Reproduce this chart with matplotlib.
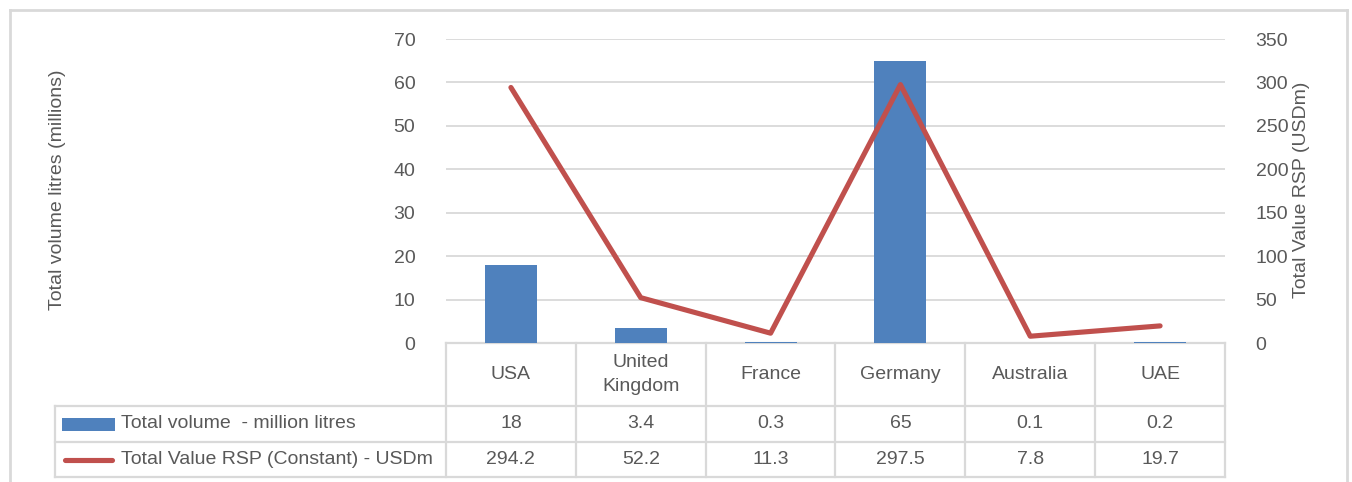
import matplotlib
matplotlib.use("Agg")
import matplotlib.pyplot as plt
from matplotlib.transforms import blended_transform_factory

plt.rcParams['font.family'] = ['Liberation Sans', 'DejaVu Sans']

# data
countries = ["USA", "United\nKingdom", "France", "Germany", "Australia", "UAE"]
volume = [18, 3.4, 0.3, 65, 0.1, 0.2]
value = [294.2, 52.2, 11.3, 297.5, 7.8, 19.7]
volume_labels = ["18", "3.4", "0.3", "65", "0.1", "0.2"]
value_labels = ["294.2", "52.2", "11.3", "297.5", "7.8", "19.7"]
series_names = ["Total volume  - million litres", "Total Value RSP (Constant) - USDm"]

BLUE = "#4F81BD"
RED = "#C0504D"
GREY = "#D9D9D9"
TXT = "#595959"
FS = 14

W, H = 1352, 482
fig = plt.figure(figsize=(W / 100, H / 100), dpi=100)

# plot area in pixels
left, right, top, bottom = 446, 1225, 39, 343
ax = fig.add_axes([left / W, 1 - bottom / H, (right - left) / W, (bottom - top) / H])
x = list(range(len(countries)))
ax.bar(x, volume, width=0.4, color=BLUE, zorder=3)
ax.set_xlim(-0.5, len(countries) - 0.5)
ax.set_ylim(0, 70)
ax.set_yticks(range(0, 71, 10))
ax.set_xticks([])
ax.grid(axis='y', color=GREY, linewidth=1.3, zorder=0)
ax.set_axisbelow(True)
ax.tick_params(axis='y', length=0, pad=22, labelsize=FS, labelcolor=TXT)
for s in ax.spines.values():
    s.set_visible(False)

ax2 = ax.twinx()
ax2.plot(x, value, color=RED, linewidth=3.7, solid_capstyle='round', zorder=4)
ax2.set_ylim(0, 350)
ax2.set_yticks(range(0, 351, 50))
ax2.tick_params(axis='y', length=0, pad=22, labelsize=FS, labelcolor=TXT)
for s in ax2.spines.values():
    s.set_visible(False)

fig.text(58 / W, 1 - 190 / H, "Total volume litres (millions)", rotation=90,
         ha='center', va='center', fontsize=FS, color=TXT)
fig.text(1302 / W, 1 - 190 / H, "Total Value RSP (USDm)", rotation=90,
         ha='center', va='center', fontsize=FS, color=TXT)

# data table under the axis
tr = blended_transform_factory(ax.transData, ax.transAxes)
ph = bottom - top
col_w = (right - left) / len(countries)
r1, r2, r3 = -63 / ph, -99 / ph, -134 / ph
xl = -0.5 + (55 - left) / col_w
lk = dict(color=GREY, linewidth=1.6, transform=tr, clip_on=False, zorder=1)

ax.plot([-0.5, len(countries) - 0.5], [0, 0], **lk)
for yy in (r1, r2, r3):
    ax.plot([xl, len(countries) - 0.5], [yy, yy], **lk)
for i in range(len(countries) + 1):
    ax.plot([i - 0.5, i - 0.5], [0, r3], **lk)
ax.plot([xl, xl], [r1, r3], **lk)

for i, c in enumerate(countries):
    ax.text(i, r1 / 2, c, transform=tr, ha='center', va='center', fontsize=FS,
            color=TXT, linespacing=1.5)
    ax.text(i, (r1 + r2) / 2, volume_labels[i], transform=tr, ha='center',
            va='center', fontsize=FS, color=TXT)
    ax.text(i, (r2 + r3) / 2, value_labels[i], transform=tr, ha='center',
            va='center', fontsize=FS, color=TXT)

# legend keys inside the table
k0 = -0.5 + (62 - left) / col_w
k1 = -0.5 + (115 - left) / col_w
tx = -0.5 + (121 - left) / col_w
kh = 13 / ph
ax.add_patch(plt.Rectangle((k0, (r1 + r2) / 2 - kh / 2), k1 - k0, kh,
                           facecolor=BLUE, transform=tr, clip_on=False))
ax.plot([k0 + 0.02, k1 - 0.02], [(r2 + r3) / 2] * 2, color=RED, linewidth=3.7,
        solid_capstyle='round', transform=tr, clip_on=False)
ax.text(tx, (r1 + r2) / 2, series_names[0], transform=tr, ha='left', va='center',
        fontsize=FS, color=TXT)
ax.text(tx, (r2 + r3) / 2, series_names[1], transform=tr, ha='left', va='center',
        fontsize=FS, color=TXT)

# outer frame
fk = dict(color=GREY, linewidth=2, transform=fig.transFigure)
fig.add_artist(plt.Line2D([10 / W, 10 / W], [0, 1 - 10 / H], **fk))
fig.add_artist(plt.Line2D([10 / W, 1347 / W], [1 - 10 / H, 1 - 10 / H], **fk))
fig.add_artist(plt.Line2D([1347 / W, 1347 / W], [0, 1 - 10 / H], **fk))

fig.savefig("out.png", dpi=100)
